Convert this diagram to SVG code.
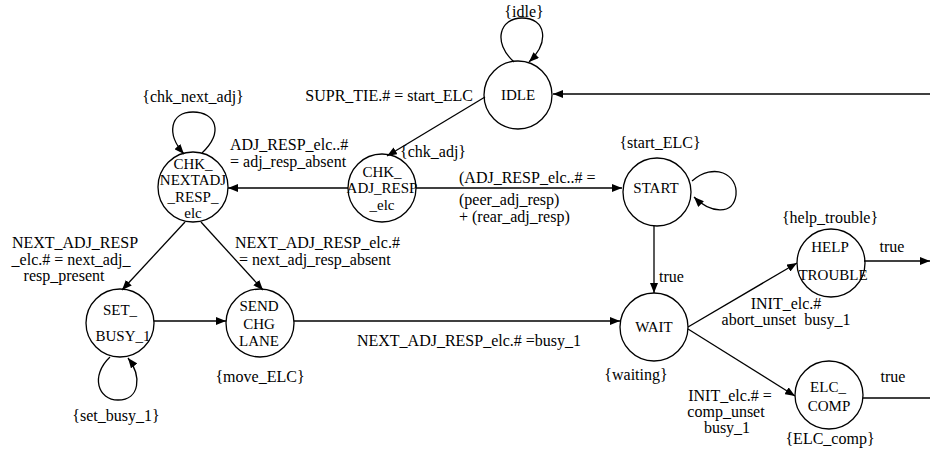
<svg xmlns="http://www.w3.org/2000/svg" width="930" height="453" viewBox="0 0 930 453" font-family="Liberation Serif, Times New Roman, Times, serif" font-size="16">
<style>
.m{text-anchor:middle}
.e{text-anchor:end}
.n text{font-size:15px}
circle{fill:none;stroke:#000;stroke-width:1.3}
.c path,.c line{fill:none;stroke:#000;stroke-width:1.3}
</style>
<defs>
<marker id="ah" viewBox="0 0 10 8" refX="10" refY="4" markerWidth="10" markerHeight="8" markerUnits="userSpaceOnUse" orient="auto">
<path d="M0,0 L10,4 L0,8 z" fill="#000"/>
</marker>
</defs>
<rect width="930" height="453" fill="#fff"/>
<g id="connectors" class="c">
<path d="M514 62 C492 42,500 18,522 18 C546 18,550 42,529 62" marker-end="url(#ah)"/>
<line x1="930" y1="94" x2="553" y2="94" marker-end="url(#ah)"/>
<line x1="485" y1="97" x2="387" y2="156" marker-end="url(#ah)"/>
<path d="M202 153 C224 132,216 112,193 112 C170 112,166 134,184 154" marker-end="url(#ah)"/>
<line x1="348" y1="188" x2="228" y2="188" marker-end="url(#ah)"/>
<line x1="416" y1="188" x2="622" y2="188" marker-end="url(#ah)"/>
<path d="M692 181 C714 162,738 174,736 195 C733 216,710 213,694 197" marker-end="url(#ah)"/>
<line x1="654" y1="226" x2="654" y2="293" marker-end="url(#ah)"/>
<line x1="185" y1="222" x2="122" y2="290" marker-end="url(#ah)"/>
<line x1="201" y1="222" x2="263" y2="290" marker-end="url(#ah)"/>
<path d="M110 357 C90 376,98 400,118 400 C140 400,142 376,128 358" marker-end="url(#ah)"/>
<line x1="154" y1="321" x2="226" y2="321" marker-end="url(#ah)"/>
<line x1="294" y1="321" x2="620" y2="321" marker-end="url(#ah)"/>
<line x1="688" y1="327" x2="797" y2="263" marker-end="url(#ah)"/>
<line x1="688" y1="329" x2="795" y2="396" marker-end="url(#ah)"/>
<line x1="864" y1="261" x2="930" y2="261" marker-end="url(#ah)"/>
<line x1="863" y1="398" x2="930" y2="398"/>
</g>
<g id="edge-labels">
<text class="m" x="524" y="17">{idle}</text>
<text class="e" x="473" y="101">SUPR_TIE.# = start_ELC</text>
<text class="m" x="193" y="102">{chk_next_adj}</text>
<text x="230" y="150">ADJ_RESP_elc..#</text>
<text x="230" y="167">= adj_resp_absent</text>
<text x="400" y="157">{chk_adj}</text>
<text x="459" y="183">(ADJ_RESP_elc..# =</text>
<text x="459" y="205">(peer_adj_resp)</text>
<text x="459" y="222">+ (rear_adj_resp)</text>
<text class="m" x="660" y="148">{start_ELC}</text>
<text x="659" y="282">true</text>
<text class="m" x="636" y="380">{waiting}</text>
<text class="m" x="830" y="223">{help_trouble}</text>
<text class="m" x="892" y="252">true</text>
<text class="m" x="786" y="309">INIT_elc.#</text>
<text class="m" x="786" y="325">abort_unset&#160; busy_1</text>
<text class="m" x="893" y="382">true</text>
<text class="m" x="730" y="401">INIT_elc.# =</text>
<text class="m" x="726" y="417">comp_unset</text>
<text class="m" x="727" y="433">busy_1</text>
<text class="m" x="830" y="444">{ELC_comp}</text>
<text class="m" x="75" y="248">NEXT_ADJ_RESP</text>
<text class="m" x="71" y="265">_elc.# = next_adj_</text>
<text class="m" x="64" y="281">resp_present</text>
<text x="235" y="248">NEXT_ADJ_RESP_elc.#</text>
<text x="239" y="265">= next_adj_resp_absent</text>
<text class="m" x="469" y="346">NEXT_ADJ_RESP_elc.# =busy_1</text>
<text class="m" x="260" y="382">{move_ELC}</text>
<text class="m" x="116" y="421">{set_busy_1}</text>
</g>
<g id="IDLE" class="n">
<circle cx="518" cy="95" r="34"/>
<text class="m" x="518" y="100">IDLE</text>
</g>
<g id="CHK_NEXTADJ_RESP_elc" class="n">
<circle cx="193" cy="187" r="35"/>
<text class="m" x="193" y="169">CHK_</text>
<text class="m" x="193" y="185">NEXTADJ</text>
<text class="m" x="193" y="202">_RESP_</text>
<text class="m" x="193" y="218">elc</text>
</g>
<g id="CHK_ADJ_RESP_elc" class="n">
<circle cx="382" cy="188" r="34"/>
<text class="m" x="382" y="177">CHK_</text>
<text class="m" x="382" y="193">ADJ_RESP</text>
<text class="m" x="382" y="210">_elc</text>
</g>
<g id="START" class="n">
<circle cx="657" cy="192" r="34"/>
<text class="m" x="656" y="193">START</text>
</g>
<g id="WAIT" class="n">
<circle cx="654" cy="327" r="34"/>
<text class="m" x="654" y="332">WAIT</text>
</g>
<g id="HELP_TROUBLE" class="n">
<circle cx="831" cy="263" r="34"/>
<text class="m" x="830" y="252">HELP</text>
<text class="m" x="833" y="280">TROUBLE</text>
</g>
<g id="ELC_COMP" class="n">
<circle cx="829" cy="395" r="34"/>
<text class="m" x="828" y="392">ELC_</text>
<text class="m" x="829" y="411">COMP</text>
</g>
<g id="SET_BUSY_1" class="n">
<circle cx="120" cy="323" r="34"/>
<text class="m" x="120" y="315">SET_</text>
<text class="m" x="123" y="341">BUSY_1</text>
</g>
<g id="SEND_CHG_LANE" class="n">
<circle cx="260" cy="323" r="34"/>
<text class="m" x="259" y="311">SEND</text>
<text class="m" x="259" y="329">CHG</text>
<text class="m" x="259" y="346">LANE</text>
</g>
</svg>
